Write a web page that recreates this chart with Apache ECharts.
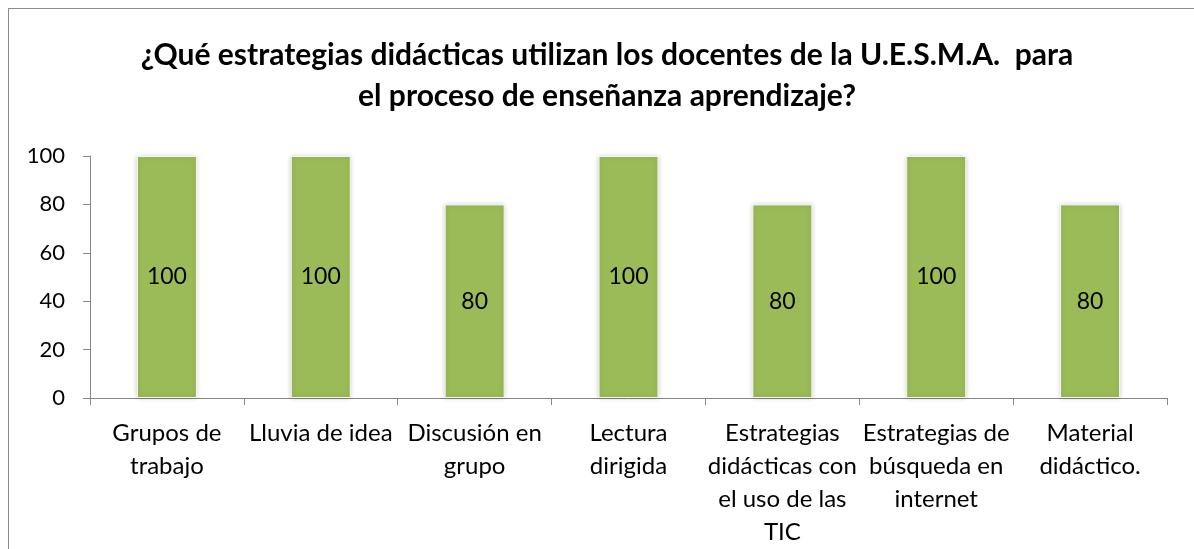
<!DOCTYPE html>
<html lang="es">
<head>
<meta charset="UTF-8">
<script src="https://cdn.jsdelivr.net/npm/echarts@6/dist/echarts.min.js"></script>
<style>
  html, body { margin: 0; padding: 0; background: #fff; overflow: hidden; }
  #frame { position: absolute; left: 8px; top: 8px; width: 1300px; height: 700px;
           border-left: 1px solid #8c8c8c; border-top: 1px solid #8c8c8c; }
  #chart { position: absolute; left: 0; top: 0; width: 1194px; height: 549px; }
</style>
</head>
<body>
<div id="frame"></div>
<div id="chart"></div>
<script>
// categorias (con los saltos de linea que muestra el grafico)
var categorias = [
  'Grupos de\ntrabajo',
  'Lluvia de idea',
  'Discusión en\ngrupo',
  'Lectura\ndirigida',
  'Estrategias\ndidácticas con\nel uso de las\nTIC',
  'Estrategias de\nbúsqueda en\ninternet',
  'Material\ndidáctico.'
];
var valores = [100, 100, 80, 100, 80, 100, 80];
var titulo = '¿Qué estrategias didácticas utilizan los docentes de la U.E.S.M.A.  para\nel proceso de enseñanza aprendizaje?';

var fuente = 'Lato, "Open Sans", sans-serif';
var chart = echarts.init(document.getElementById('chart'));
var option = {
  animation: false,
  backgroundColor: 'transparent',
  title: {
    text: titulo,
    left: 602,
    textAlign: 'center',
    top: 30,
    textStyle: {
      fontFamily: fuente,
      fontSize: 30,
      fontWeight: 'bold',
      color: '#000',
      lineHeight: 41
    }
  },
  grid: { left: 90, right: 27, top: 156, bottom: 149, containLabel: false },
  xAxis: {
    type: 'category',
    data: categorias,
    axisLine: { lineStyle: { color: '#868686', width: 1 } },
    axisTick: { show: true, alignWithLabel: false, length: 7, lineStyle: { color: '#868686' } },
    axisLabel: {
      interval: 0,
      margin: 19,
      fontFamily: fuente,
      fontSize: 24,
      lineHeight: 33,
      color: '#000'
    }
  },
  yAxis: {
    type: 'value',
    min: 0,
    max: 100,
    interval: 20,
    splitLine: { show: false },
    axisLine: { show: true, lineStyle: { color: '#868686', width: 1 } },
    axisTick: { show: true, length: 7, lineStyle: { color: '#868686' } },
    axisLabel: {
      margin: 25,
      fontFamily: fuente,
      fontSize: 22,
      color: '#000'
    }
  },
  series: [{
    type: 'bar',
    data: valores,
    barWidth: 60,
    itemStyle: {
      color: '#9BBB59',
      borderColor: '#f4f7ee',
      borderWidth: 1,
      shadowColor: 'rgba(0,0,0,0.22)',
      shadowBlur: 5
    },
    label: {
      show: true,
      position: 'inside',
      fontFamily: fuente,
      fontSize: 23,
      color: '#000'
    }
  }]
};
chart.setOption(option);
</script>
</body>
</html>
